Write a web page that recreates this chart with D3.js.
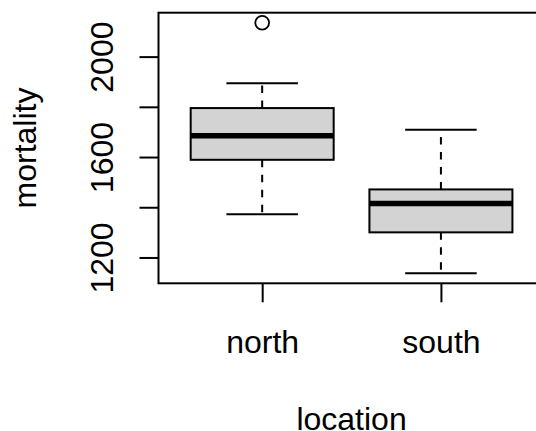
<!DOCTYPE html>
<html lang="en">
  <head>
    <meta charset="UTF-8" />
    <title>mortality by location</title>
    <style>
      body { margin: 0; background: #fff; }
      svg { display: block; font-family: "Liberation Sans", Arial, sans-serif; }
    </style>
  </head>
  <body>
    <svg id="chart" width="536" height="431"></svg>

    <script src="https://d3js.org/d3.v7.min.js"></script>
    <script>
      // values
      const locations = ["north", "south"];
      const whiskerLow = [1372, 1137];
      const lowerQuartile = [1589, 1300];
      const medians = [1685, 1415];
      const upperQuartile = [1795, 1471];
      const whiskerHigh = [1894, 1709];
      const outliers = [[2135], []];
      const yTicks = [1200, 1400, 1600, 1800, 2000];
      const yTickLabels = ["1200", "", "1600", "", "2000"]; // R drops the crowded ones

      const plotLeft = 158.5, plotTop = 12.7, plotRight = 544.6, plotBottom = 283.3;

      const svg = d3.select("#chart");

      // R style limits: data range padded by 4% each side
      const allVals = whiskerLow.concat(whiskerHigh, outliers.flat());
      const lo = d3.min(allVals), hi = d3.max(allVals);
      const pad = (hi - lo) * 0.04;
      const y = d3.scaleLinear().domain([lo - pad, hi + pad]).range([plotBottom, plotTop]);
      const x = d3.scaleLinear().domain([0.42, locations.length + 0.58]).range([plotLeft, plotRight]);

      const data = locations.map((name, i) => ({
        name,
        pos: i + 1,
        wlo: whiskerLow[i],
        q1: lowerQuartile[i],
        med: medians[i],
        q3: upperQuartile[i],
        whi: whiskerHigh[i],
        out: outliers[i]
      }));

      const g = svg.selectAll("g.box")
        .data(data)
        .enter()
        .append("g")
        .attr("class", "box");

      // dashed whiskers, drawn from the box outwards
      g.append("line")
        .attr("x1", d => x(d.pos)).attr("x2", d => x(d.pos))
        .attr("y1", d => y(d.q3)).attr("y2", d => y(d.whi))
        .attr("stroke", "#000").attr("stroke-width", 2)
        .attr("stroke-dasharray", "7.5,7.5");
      g.append("line")
        .attr("x1", d => x(d.pos)).attr("x2", d => x(d.pos))
        .attr("y1", d => y(d.q1)).attr("y2", d => y(d.wlo))
        .attr("stroke", "#000").attr("stroke-width", 2)
        .attr("stroke-dasharray", "7.5,7.5");

      // whisker caps
      ["wlo", "whi"].forEach(k => {
        g.append("line")
          .attr("x1", d => x(d.pos - 0.2)).attr("x2", d => x(d.pos + 0.2))
          .attr("y1", d => y(d[k])).attr("y2", d => y(d[k]))
          .attr("stroke", "#000").attr("stroke-width", 2);
      });

      // box
      g.append("rect")
        .attr("x", d => x(d.pos - 0.4))
        .attr("width", d => x(d.pos + 0.4) - x(d.pos - 0.4))
        .attr("y", d => y(d.q3))
        .attr("height", d => y(d.q1) - y(d.q3))
        .attr("fill", "#d3d3d3")
        .attr("stroke", "#000").attr("stroke-width", 2);

      // median
      g.append("line")
        .attr("x1", d => x(d.pos - 0.4)).attr("x2", d => x(d.pos + 0.4))
        .attr("y1", d => y(d.med)).attr("y2", d => y(d.med))
        .attr("stroke", "#000").attr("stroke-width", 5.5);

      // outliers
      g.selectAll("circle")
        .data(d => d.out.map(v => ({ pos: d.pos, v })))
        .enter()
        .append("circle")
        .attr("cx", d => x(d.pos))
        .attr("cy", d => y(d.v))
        .attr("r", 6.9)
        .attr("fill", "none")
        .attr("stroke", "#000").attr("stroke-width", 1.8);

      // plot frame
      svg.append("rect")
        .attr("x", plotLeft).attr("y", plotTop)
        .attr("width", plotRight - plotLeft).attr("height", plotBottom - plotTop)
        .attr("fill", "none").attr("stroke", "#000").attr("stroke-width", 2);

      // y axis
      const yAxis = svg.append("g")
        .attr("transform", `translate(${plotLeft},0)`)
        .call(d3.axisLeft(y).tickValues(yTicks)
          .tickFormat((d, i) => yTickLabels[i]).tickSize(19).tickSizeOuter(0));
      yAxis.select(".domain").remove();
      yAxis.selectAll(".tick line").attr("stroke-width", 2);
      yAxis.selectAll(".tick text")
        .attr("transform", "rotate(-90)")
        .attr("x", 0).attr("y", -45.2).attr("dy", 0)
        .attr("text-anchor", "middle")
        .style("font-size", "32px").style("font-family", "inherit").attr("fill", "#000");

      // x axis
      const xAxis = svg.append("g")
        .attr("transform", `translate(0,${plotBottom})`)
        .call(d3.axisBottom(x).tickValues(data.map(d => d.pos))
          .tickFormat((d, i) => locations[i]).tickSize(19).tickSizeOuter(0));
      xAxis.select(".domain").remove();
      xAxis.selectAll(".tick line").attr("stroke-width", 2);
      xAxis.selectAll(".tick text")
        .attr("y", 70).attr("dy", 0)
        .style("font-size", "32px").style("font-family", "inherit").attr("fill", "#000");

      // axis titles
      svg.append("text")
        .attr("transform", `translate(36,${(plotTop + plotBottom) / 2}) rotate(-90)`)
        .attr("text-anchor", "middle")
        .style("font-size", "32px")
        .text("mortality");
      svg.append("text")
        .attr("x", (plotLeft + plotRight) / 2).attr("y", 429.5)
        .attr("text-anchor", "middle")
        .style("font-size", "32px")
        .text("location");
    </script>
  </body>
</html>
